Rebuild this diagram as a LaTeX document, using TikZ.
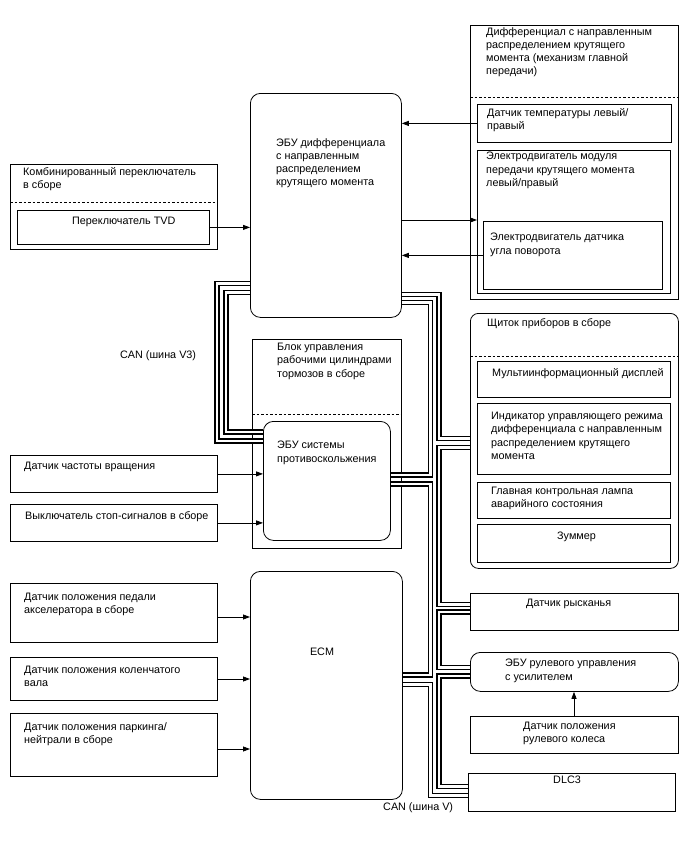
\documentclass[tikz,border=0pt]{standalone}
\usepackage{fontspec}
\setmainfont{Liberation Sans}
\usepackage{tikz}
\usetikzlibrary{arrows.meta}
\colorlet{wire}{black}

\begin{document}
\begin{tikzpicture}[x=1pt, y=-1pt,
    box/.style={draw, line width=0.8pt, anchor=north west, inner sep=0pt},
    ecu/.style={box, rounded corners=10pt},
    lbl/.style={anchor=north west, inner sep=0pt, align=left, font=\fontsize{10.8}{13.3}\selectfont},
    sig/.style={line width=0.8pt, -{Triangle[length=7pt, width=5pt]}},
    canpair/.style={wire, line width=1.3pt, double, double distance=2.5pt},
    sep/.style={line width=0.7pt, dash pattern=on 2.5pt off 2pt}]
  \useasboundingbox (0,0) rectangle (688,852);

  % Differential unit (top right)
  \node[box, minimum width=208, minimum height=274] (diffunit) at (470,25) {};
  \draw[sep] (diffunit.west |- 0,97) -- (diffunit.east |- 0,97);
  \node[lbl] (difflbl) at (486,27) {Дифференциал с направленным\\распределением крутящего\\момента (механизм главной\\передачи)};
  \node[box, minimum width=194, minimum height=38] (tempsens) at (477,104) {};
  \node[lbl] (templbl) at (487,108) {Датчик температуры левый/\\правый};
  \node[box, minimum width=193, minimum height=143] (motorbox) at (477,150) {};
  \node[lbl] (motorlbl) at (486,152) {Электродвигатель модуля\\передачи крутящего момента\\левый/правый};
  \node[box, minimum width=179, minimum height=68] (anglemotor) at (483,221) {};
  \node[lbl] (anglelbl) at (490,233) {Электродвигатель датчика\\угла поворота};

  % TVD ECU
  \node[ecu, minimum width=151, minimum height=224] (tvdecu) at (250,93) {};
  \node[lbl] (tvdeculbl) at (276,138) {ЭБУ дифференциала\\с направленным\\распределением\\крутящего момента};

  % Combination switch
  \node[box, minimum width=207, minimum height=85] (comboswitch) at (10,164) {};
  \draw[sep] (comboswitch.west |- 0,202) -- (comboswitch.east |- 0,202);
  \node[lbl] (combolbl) at (23,167) {Комбинированный переключатель\\в сборе};
  \node[box, minimum width=192, minimum height=34] (tvdsw) at (17,210) {};
  \node[lbl] (tvdswlbl) at (72,217) {Переключатель TVD};

  % Brake actuator and skid control ECU
  \node[box, minimum width=149, minimum height=209] (brakeunit) at (252,339) {};
  \draw[sep] (brakeunit.west |- 0,414) -- (brakeunit.east |- 0,414);
  \node[lbl] (brakelbl) at (277,343) {Блок управления\\рабочими цилиндрами\\тормозов в сборе};
  \node[ecu, minimum width=127, minimum height=119] (skidecu) at (263,421) {};
  \node[lbl] (skidlbl) at (277,441) {ЭБУ системы\\противоскольжения};
  \node[box, minimum width=207, minimum height=37] (speedsens) at (10,455) {};
  \node[lbl] (speedlbl) at (24,462) {Датчик частоты вращения};
  \node[box, minimum width=207, minimum height=37] (stopsw) at (10,504) {};
  \node[lbl] (stoplbl) at (25,511) {Выключатель стоп-сигналов в сборе};

  % ECM and its sensors
  \node[ecu, minimum width=152, minimum height=228] (ecm) at (250,571) {};
  \node[font=\fontsize{10.8}{13.3}\selectfont, inner sep=0pt] (ecmlbl) at (322,652) {ECM};
  \node[box, minimum width=207, minimum height=59] (accel) at (10,583) {};
  \node[lbl] (accellbl) at (24,593) {Датчик положения педали\\акселератора в сборе};
  \node[box, minimum width=207, minimum height=43] (crank) at (10,657) {};
  \node[lbl] (cranklbl) at (24,666) {Датчик положения коленчатого\\вала};
  \node[box, minimum width=207, minimum height=63] (park) at (10,713) {};
  \node[lbl] (parklbl) at (24,722) {Датчик положения паркинга/\\нейтрали в сборе};

  % Combination meter
  \node[box, rounded corners=8pt, minimum width=208, minimum height=255] (cluster) at (470,313) {};
  \draw[sep] (cluster.west |- 0,356) -- (cluster.east |- 0,356);
  \node[lbl] (clusterlbl) at (487,318) {Щиток приборов в сборе};
  \node[box, minimum width=193, minimum height=36] (multidisp) at (477,361) {};
  \node[lbl] (displbl) at (492,368) {Мультиинформационный дисплей};
  \node[box, minimum width=193, minimum height=71] (modeind) at (477,403) {};
  \node[lbl] (indlbl) at (491,412) {Индикатор управляющего режима\\дифференциала с направленным\\распределением крутящего\\момента};
  \node[box, minimum width=193, minimum height=36] (mil) at (477,482) {};
  \node[lbl] (millbl) at (491,487) {Главная контрольная лампа\\аварийного состояния};
  \node[box, minimum width=193, minimum height=38] (buzzer) at (477,524) {};
  \node[lbl] (buzzlbl) at (557,532) {Зуммер};

  % Lower right units
  \node[box, minimum width=208, minimum height=37] (yaw) at (470,593) {};
  \node[lbl] (yawlbl) at (526,599) {Датчик рысканья};
  \node[ecu, minimum width=208, minimum height=39] (eps) at (470,652) {};
  \node[lbl] (epslbl) at (505,659) {ЭБУ рулевого управления\\с усилителем};
  \node[box, minimum width=208, minimum height=37] (steer) at (470,716) {};
  \node[lbl] (steerlbl) at (523,722) {Датчик положения\\рулевого колеса};
  \node[box, minimum width=207, minimum height=38] (dlc) at (468,773) {};
  \node[lbl] (dlclbl) at (553,776) {DLC3};

  % Signal lines
  \draw[sig] (tempsens.west) -- (tempsens.west -| tvdecu.east);
  \draw[sig] (tvdecu.east |- 0,220) -- (motorbox.west |- 0,220);
  \draw[sig] (anglemotor.west) -- (anglemotor.west -| tvdecu.east);
  \draw[sig] (tvdsw.east) -- (tvdsw.east -| tvdecu.west);
  \draw[sig] (speedsens.east) -- (speedsens.east -| skidecu.west);
  \draw[sig] (stopsw.east) -- (stopsw.east -| skidecu.west);
  \draw[sig] (accel.east |- 0,617) -- (ecm.west |- 0,617);
  \draw[sig] (crank.east |- 0,679) -- (ecm.west |- 0,679);
  \draw[sig] (park.east |- 0,749) -- (ecm.west |- 0,749);
  \draw[sig] (steer.north -| 574,0) -- (eps.south -| 574,0);

  % CAN V3 bus
  \draw[canpair] (tvdecu.west |- 0,283.5) -| (217,441) -- (skidecu.west |- 0,441);
  \draw[canpair] (tvdecu.west |- 0,292.5) -| (226,432) -- (skidecu.west |- 0,432);
  \draw[canpair] (tvdecu.east |- 0,294.5) -| (439,438.5) -- (cluster.west |- 0,438.5);
  \draw[canpair] (tvdecu.east |- 0,302.5) -| (430.5,475) -- (skidecu.east |- 0,475);
  \node[lbl] (v3lbl) at (120,350) {CAN (шина V3)};

  % CAN V bus
  \draw[canpair] (cluster.west |- 0,447.5) -| (439,604.5) -- (yaw.west |- 0,604.5);
  \draw[canpair] (yaw.west |- 0,612) -| (439,667.5) -- (eps.west |- 0,667.5);
  \draw[canpair] (skidecu.east |- 0,484) -| (430.5,675) -- (ecm.east |- 0,675);
  \draw[canpair] (ecm.east |- 0,684.5) -| (430.5,795.5) -- (dlc.west |- 0,795.5);
  \draw[canpair] (eps.west |- 0,676) -| (439,786.5) -- (dlc.west |- 0,786.5);
  \node[lbl] (vlbl) at (383,802) {CAN (шина V)};
\end{tikzpicture}
\end{document}
